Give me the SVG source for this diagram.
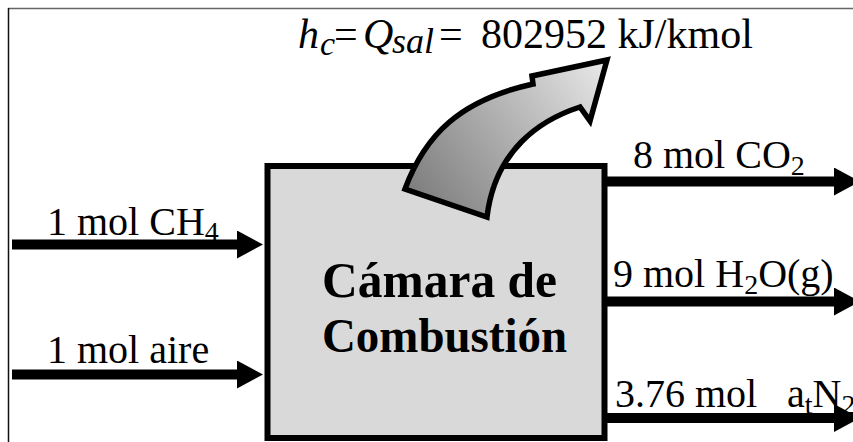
<svg xmlns="http://www.w3.org/2000/svg" width="853" height="442" viewBox="0 0 853 442">
<style>
.t{font-family:"Liberation Serif","Times New Roman",serif;fill:#000}
.lbl{font-size:40px}
.sub{font-size:28px}
.it{font-style:italic}
.flow{stroke:#000;stroke-width:10;fill:none;marker-end:url(#ah)}
</style>
<defs>
<marker id="ah" markerUnits="userSpaceOnUse" viewBox="0 0 26 28" markerWidth="26" markerHeight="28" refX="2" refY="14" orient="auto">
<path d="M0,0 L26,14 L0,28 z" fill="#000"/>
</marker>
<linearGradient id="g" gradientUnits="userSpaceOnUse" x1="420" y1="200" x2="600" y2="70">
<stop offset="0" stop-color="#7f7f7f"/>
<stop offset="0.55" stop-color="#b5b5b5"/>
<stop offset="1" stop-color="#e4e4e4"/>
</linearGradient>
</defs>
<rect width="853" height="442" fill="#fff"/>
<g id="frame">
<line x1="8" y1="8.5" x2="853" y2="8.5" stroke="#666" stroke-width="1.5"/>
<line x1="8.5" y1="8" x2="8.5" y2="442" stroke="#111" stroke-width="1.5"/>
</g>
<g id="connectors">
<line class="flow" x1="12" y1="244.5" x2="239" y2="244.5"/>
<line class="flow" x1="12" y1="374.5" x2="239" y2="374.5"/>
<line class="flow" x1="606" y1="181.5" x2="836" y2="181.5"/>
<line class="flow" x1="606" y1="301.5" x2="836" y2="301.5"/>
<line class="flow" x1="606" y1="418" x2="836" y2="418"/>
</g>
<g id="labels">
<text class="t lbl" x="47" y="235">1 mol CH<tspan class="sub" dy="6">4</tspan></text>
<text class="t lbl" x="47" y="363">1 mol aire</text>
<text class="t lbl" x="633" y="168.3">8 mol CO<tspan class="sub" dy="7">2</tspan></text>
<text class="t lbl" x="613" y="286.7">9 mol H<tspan class="sub" dy="7">2</tspan><tspan dy="-7">O(g)</tspan></text>
<text class="t lbl" x="615" y="406.7">3.76 mol<tspan x="787">a</tspan><tspan class="sub" dy="7">t</tspan><tspan dy="-7">N</tspan><tspan class="sub" dy="7">2</tspan></text>
</g>
<g id="camara">
<rect x="267.5" y="166" width="337" height="272" fill="#d9d9d9" stroke="#000" stroke-width="6"/>
<text class="t" x="322" y="297" font-size="50" font-weight="bold" textLength="235" lengthAdjust="spacingAndGlyphs">Cámara de</text>
<text class="t" x="322" y="352" font-size="49" font-weight="bold" textLength="245" lengthAdjust="spacingAndGlyphs">Combustión</text>
</g>
<g id="calor">
<path d="M405,189 C425,135 460,100 533,84 L532,76 L607,60 L590,121 L580,107 C540,120 495,150 487,217 Z" fill="url(#g)" stroke="#000" stroke-width="5.5" stroke-linejoin="miter"/>
</g>
<g id="titulo">
<text class="t" y="47.7" font-size="42"><tspan class="it" x="298">h</tspan><tspan class="it" x="320" y="55" font-size="34">c</tspan><tspan x="334" y="47.7">=</tspan><tspan class="it" x="363">Q</tspan><tspan class="it" x="392" y="53" font-size="36">sal</tspan><tspan x="439" y="47.7">=</tspan><tspan x="481">802952 kJ/kmol</tspan></text>
</g>
</svg>
